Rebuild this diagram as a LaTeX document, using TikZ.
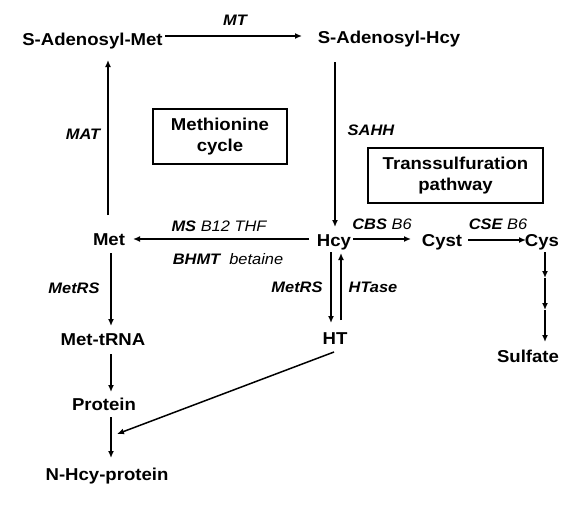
\documentclass[tikz,border=0pt]{standalone}
\usepackage{fontspec}
\setmainfont[FakeStretch=1.08]{Liberation Sans}
\usetikzlibrary{arrows.meta,calc}
\begin{document}
\begin{tikzpicture}[x=1pt,y=-1pt,
  mol/.style={font=\bfseries\fontsize{17.2}{21}\selectfont,inner sep=0pt,anchor=base},
  lab/.style={font=\bfseries\itshape\fontsize{15.2}{18}\selectfont,inner sep=0pt,anchor=base},
  boxed/.style={draw,line width=1.6pt,font=\bfseries\fontsize{17.2}{21}\selectfont,align=center,inner sep=0pt},
  arr/.style={line width=1.5pt,-{Latex[length=7pt,width=6pt]}}]
\useasboundingbox (0,0) rectangle (578,504);
% molecules
\node[mol] (sam) at (92.5,45) {S-Adenosyl-Met};
\node[mol] (sah) at (389,43) {S-Adenosyl-Hcy};
\node[mol] (met) at (109,245) {Met};
\node[mol] (hcy) at (334,246) {Hcy};
\node[mol] (cyst) at (442,246) {Cyst};
\node[mol] (cys) at (542,246) {Cys};
\node[mol] (mettrna) at (103,345) {Met-tRNA};
\node[mol] (protein) at (104,410) {Protein};
\node[mol] (nhcy) at (107,480) {N-Hcy-protein};
\node[mol] (ht) at (335,344) {HT};
\node[mol] (sulfate) at (528,362) {Sulfate};
% boxes
\node[boxed,minimum width=134pt,minimum height=55pt] (cyclebox) at (220,136.5) {Methionine\\cycle};
\node[boxed,minimum width=175pt,minimum height=55pt] (transbox) at (455.5,175.5) {Transsulfuration\\pathway};
% labels
\node[lab] (lmt) at (235,25) {MT};
\node[lab] (lmat) at (83,139) {MAT};
\node[lab] (lsahh) at (371,135) {SAHH};
\node[lab] (lms) at (219,231) {MS \mdseries B12 THF};
\node[lab] (lbhmt) at (228,264) {BHMT \mdseries\ betaine};
\node[lab] (lcbs) at (382,229) {CBS \mdseries B6};
\node[lab] (lcse) at (498,229) {CSE \mdseries B6};
\node[lab] (lmetrs1) at (74,293) {MetRS};
\node[lab] (lmetrs2) at (297,292) {MetRS};
\node[lab] (lhtase) at (373,292) {HTase};
% connectors
\draw[arr] ($(sam.base)+(72.5,-9)$) -- ($(sah.base)+(-87,-7)$);
\draw[arr] ($(met.base)+(-1,-30)$) -- ($(sam.base)+(15.5,15)$);
\draw[arr] ($(sah.base)+(-54,19)$) -- ($(hcy.base)+(1,-19)$);
\draw[arr] ($(hcy.base)+(-25,-7)$) -- ($(met.base)+(24,-6)$);
\draw[arr] ($(hcy.base)+(19,-7)$) -- ($(cyst.base)+(-31,-7)$);
\draw[arr] ($(cyst.base)+(26,-6)$) -- ($(cys.base)+(-16,-6)$);
\draw[arr] ($(met.base)+(2,8)$) -- ($(mettrna.base)+(8,-19)$);
\draw[arr] ($(mettrna.base)+(8,9)$) -- ($(protein.base)+(7,-18)$);
\draw[arr] ($(protein.base)+(7,7)$) -- ($(nhcy.base)+(4,-22)$);
\coordinate (joint) at ($(nhcy.base)+(10,-46)$);
\draw[arr] ($(ht.base)+(-1,8)$) -- (joint);
\draw[arr] ($(hcy.base)+(-3,6)$) -- ($(ht.base)+(-4,-21)$);
\draw[arr] ($(ht.base)+(6,-24)$) -- ($(hcy.base)+(7,7)$);
\coordinate (c0) at ($(cys.base)+(3,6)$);
\coordinate (c1) at ($(c0)+(0,26)$);
\coordinate (c2) at ($(c1)+(0,32)$);
\draw[arr] (c0) -- (c1);
\draw[arr] (c1) -- (c2);
\draw[arr] (c2) -- ($(sulfate.base)+(17,-20)$);
\end{tikzpicture}
\end{document}
